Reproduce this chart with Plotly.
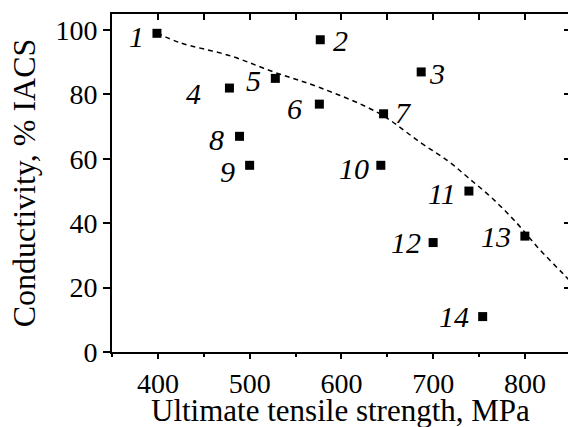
import plotly.graph_objects as go

# data
labels = ["1", "2", "3", "4", "5", "6", "7", "8", "9", "10", "11", "12", "13", "14"]
strength = [399, 577, 687, 478, 528, 576, 646, 489, 500, 643, 739, 700, 800, 754]
conductivity = [99, 97, 87, 82, 85, 77, 74, 67, 58, 58, 50, 34, 36, 11]

# dashed trend curve
curve_x = [399, 424, 479, 528, 577, 642, 686, 716, 738, 765, 792, 814, 842, 850]
curve_y = [99.1, 96.1, 92.0, 86.8, 82.1, 74.0, 65.1, 59.4, 54.2, 47.6, 39.8, 32.5, 24.2, 21.8]

x_title = "Ultimate tensile strength, MPa"
y_title = "Conductivity, % IACS"

# label offsets (px) relative to each marker (style only)
label_dx = [-20, 20, 16, -36, -22, -25, 20, -23, -22, -27, -27, -27, -29, -29]
label_dy = [-3, -1, -2, -5, -2, -4, 1, -3, -6, -3, -2, 0, 0, 0]

FONT = "Liberation Serif"

fig = go.Figure()
fig.add_trace(go.Scatter(x=curve_x, y=curve_y, mode="lines",
                         line=dict(color="black", width=1.5, dash="5px,4px", shape="spline"),
                         showlegend=False, hoverinfo="skip"))
fig.add_trace(go.Scatter(x=strength, y=conductivity, mode="markers",
                         marker=dict(symbol="square", size=9, color="black"),
                         showlegend=False))
# dummy trace to show the mirrored top/right axes
fig.add_trace(go.Scatter(x=[None], y=[None], xaxis="x2", yaxis="y2", showlegend=False))

for lab, x, y, dx, dy in zip(labels, strength, conductivity, label_dx, label_dy):
    fig.add_annotation(x=x, y=y, text="<i>" + lab + "</i>", showarrow=False, xshift=dx, yshift=dy,
                       font=dict(family=FONT, size=30, color="black"),
                       xanchor="center", yanchor="middle")

# x-axis title as annotation below the tick labels
fig.add_annotation(xref="paper", yref="paper", x=0.5, y=0, yshift=-39, text=x_title,
                   showarrow=False, xanchor="center", yanchor="top",
                   font=dict(family=FONT, size=31, color="black"))

xr = [350, 847]
yr = [0, 105]
common = dict(showline=True, linewidth=2, linecolor="black", showgrid=False, zeroline=False,
              automargin=False, tickcolor="black", tickwidth=2)
fig.update_layout(
    width=568, height=427,
    margin=dict(l=112, r=0, t=14, b=75),
    paper_bgcolor="white", plot_bgcolor="white",
    font=dict(family=FONT, size=28, color="black"),
    xaxis=dict(range=xr, tickvals=[400, 500, 600, 700, 800], ticks="outside", ticklen=5,
               minor=dict(tickvals=[350, 450, 550, 650, 750], ticks="outside", ticklen=3,
                          tickwidth=2, tickcolor="black"),
               tickfont=dict(family=FONT, size=28), **common),
    yaxis=dict(range=yr, dtick=20, ticks="outside", ticklen=7,
               title=dict(text=y_title, font=dict(family=FONT, size=32), standoff=10),
               tickfont=dict(family=FONT, size=28), **common),
    xaxis2=dict(range=xr, overlaying="x", side="top", anchor="y2",
                tickvals=[400, 450, 500, 550, 600, 650, 700, 750, 800],
                ticks="inside", ticklen=6, showticklabels=False, **common),
    yaxis2=dict(range=yr, overlaying="y", side="right", anchor="x2", dtick=20,
                ticks="inside", ticklen=4, showticklabels=False, **common),
)

fig.write_html("out.html", config={"displayModeBar": False},
               post_script="document.body.style.margin='0';document.body.style.overflow='hidden';")
